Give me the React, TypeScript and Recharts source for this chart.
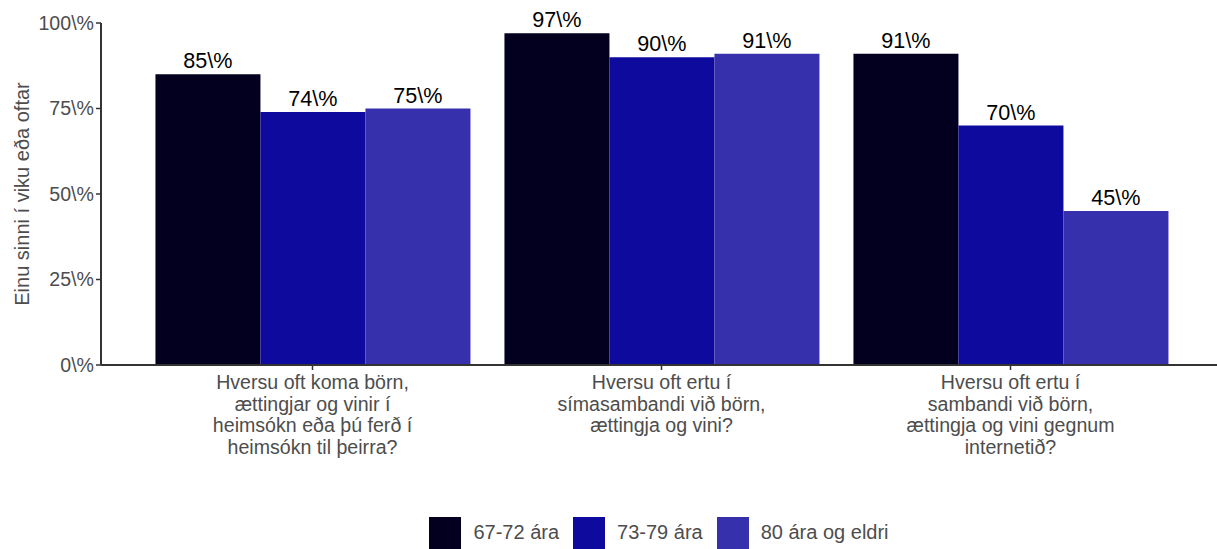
import { BarChart, Bar, XAxis, YAxis, Legend, LabelList } from 'recharts';

const categories = ['visits', 'phone', 'internet'];
const tickLines = [
  ['Hversu oft koma börn,', 'ættingjar og vinir í', 'heimsókn eða þú ferð í', 'heimsókn til þeirra?'],
  ['Hversu oft ertu í', 'símasambandi við börn,', 'ættingja og vini?'],
  ['Hversu oft ertu í', 'sambandi við börn,', 'ættingja og vini gegnum', 'internetið?'],
];
const age6772 = [85, 97, 91];
const age7379 = [74, 90, 70];
const age80 = [75, 91, 45];
const seriesNames = ['67-72 ára', '73-79 ára', '80 ára og eldri'];
const seriesColors = ['#03001f', '#0f0a9e', '#3730ad'];
const yTicks = [0, 25, 50, 75, 100];

const data = categories.map((c, i) => ({
  cat: c,
  a: age6772[i],
  b: age7379[i],
  c: age80[i],
}));

const FONT = '"Liberation Sans", Arial, sans-serif';

function XTick({ x, y, payload }: any) {
  const lines = tickLines[payload.index] ?? [];
  return (
    <g transform={`translate(${x},${y})`}>
      <text textAnchor="middle" fill="#4d4d4d" fontSize={19.6} fontFamily={FONT}>
        {lines.map((l, i) => (
          <tspan key={i} x={0} dy={i === 0 ? 17 : 21.5}>
            {l}
          </tspan>
        ))}
      </text>
    </g>
  );
}

function YLabel({ viewBox }: any) {
  const cx = 22;
  const cy = viewBox.y + viewBox.height / 2;
  return (
    <text
      x={cx}
      y={cy}
      transform={`rotate(-90, ${cx}, ${cy})`}
      textAnchor="middle"
      dominantBaseline="central"
      fill="#4d4d4d"
      fontSize={20}
      fontFamily={FONT}
    >
      Einu sinni í viku eða oftar
    </text>
  );
}

function LegendBox() {
  return (
    <div
      style={{
        display: 'flex',
        justifyContent: 'center',
        alignItems: 'center',
        height: 41,
        paddingTop: 8,
        paddingLeft: 101,
        boxSizing: 'border-box',
        fontFamily: FONT,
        fontSize: 20,
        color: '#4d4d4d',
      }}
    >
      {seriesNames.map((n, i) => (
        <div
          key={n}
          style={{ display: 'flex', alignItems: 'center', marginLeft: i === 0 ? 0 : 14 }}
        >
          <div style={{ width: 32, height: 32, background: seriesColors[i] }} />
          <span style={{ marginLeft: 12 }}>{n}</span>
        </div>
      ))}
    </div>
  );
}

const fmt = (v: number) => `${v}\\%`;

export default function App() {
  return (
    <div style={{ position: 'absolute', left: 0, top: 0, background: '#fff' }}>
      <BarChart
        width={1217}
        height={549}
        data={data}
        margin={{ top: 23, right: 0, left: 0, bottom: 0 }}
        barCategoryGap="5%"
        barGap={0}
      >
        <XAxis
          dataKey="cat"
          tick={<XTick />}
          tickSize={5}
          tickMargin={2}
          height={143}
          interval={0}
          padding={{ left: 37, right: 32 }}
          stroke="#333333"
          axisLine={{ stroke: '#333333', strokeWidth: 2 }}
          tickLine={{ stroke: '#333333', strokeWidth: 1.5 }}
        />
        <YAxis
          domain={[0, 100]}
          ticks={yTicks}
          width={101}
          tickSize={5}
          tickMargin={2}
          tickFormatter={fmt}
          stroke="#333333"
          axisLine={{ stroke: '#333333', strokeWidth: 2 }}
          tickLine={{ stroke: '#333333', strokeWidth: 1.5 }}
          tick={{ fill: '#4d4d4d', fontSize: 19.6, fontFamily: FONT }}
          label={<YLabel />}
        />
        <Legend verticalAlign="bottom" content={<LegendBox />} wrapperStyle={{ height: 41 }} />
        {(['a', 'b', 'c'] as const).map((k, i) => (
          <Bar key={k} dataKey={k} name={seriesNames[i]} fill={seriesColors[i]} isAnimationActive={false}>
            <LabelList
              dataKey={k}
              position="top"
              offset={6}
              formatter={fmt}
              fill="#000000"
              fontSize={21.6}
              fontFamily={FONT}
            />
          </Bar>
        ))}
      </BarChart>
    </div>
  );
}
